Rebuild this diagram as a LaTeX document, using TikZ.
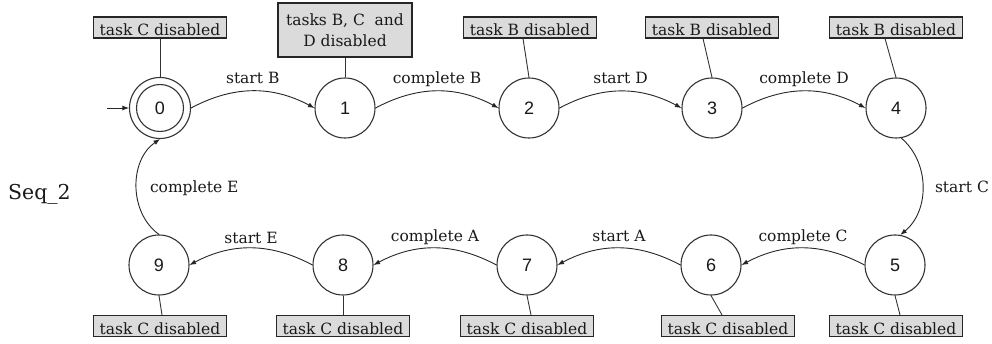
\documentclass[tikz,border=0pt]{standalone}
\usepackage{fontspec}
\setmainfont{DejaVu Serif}
\newfontfamily\statefont{Liberation Sans}
\usetikzlibrary{arrows.meta}
\begin{document}
\begin{tikzpicture}[x=1pt,y=-1pt,
  every node/.style={text=black!90},
  state/.style={circle,draw=black!80,line width=1.1pt,minimum size=60pt,inner sep=0pt,
    font=\statefont\fontsize{18}{18}\selectfont},
  startstate/.style={state,minimum size=61pt,
    path picture={\draw[black!80,line width=1.1pt] (path picture bounding box.center) circle[radius=23.5pt];}},
  boxbase/.style={draw=black!85,fill=gray!28,line width=1.1pt,inner xsep=6.5pt,inner ysep=2pt,
    font=\fontsize{15.5}{21}\selectfont},
  taskbox/.style={boxbase,text height=16pt,text depth=0pt,minimum height=21pt},
  tie/.style={draw=black!80,line width=0.9pt},
  move/.style={draw=black!85,line width=0.9pt,-{Latex[length=6.5pt,width=5pt]}},
  lbl/.style={font=\fontsize{15.5}{18}\selectfont,inner sep=0pt,text depth=0pt}
]
\useasboundingbox (0,0) rectangle (992,344);

% sequence name
\node[font=\fontsize{20.5}{24}\selectfont,anchor=base west,inner sep=0pt] (seq) at (8,200) {Seq\_2};

% states
\node[startstate] (n0) at (160,108) {0};
\node[state] (n1) at (345,108) {1};
\node[state] (n2) at (529,108) {2};
\node[state] (n3) at (712,108) {3};
\node[state] (n4) at (896,108) {4};
\node[state] (n5) at (895,265) {5};
\node[state] (n6) at (711,265) {6};
\node[state] (n7) at (527,265) {7};
\node[state] (n8) at (343,265) {8};
\node[state] (n9) at (159,265) {9};

% disabled-task notes
\node[taskbox] (b0) at (160,27.5) {task C disabled};
\node[boxbase,align=center,minimum height=54pt,minimum width=134pt] (b1) at (345,30) {tasks B, C\ \ and\\D disabled};
\node[taskbox] (b2) at (530,27.5) {task B disabled};
\node[taskbox] (b3) at (712,27.5) {task B disabled};
\node[taskbox] (b4) at (896,27.5) {task B disabled};
\node[taskbox] (b5) at (896,326) {task C disabled};
\node[taskbox] (b6) at (728,326) {task C disabled};
\node[taskbox] (b7) at (527,326) {task C disabled};
\node[taskbox] (b8) at (343,326) {task C disabled};
\node[taskbox] (b9) at (160,326) {task C disabled};

% note attachments
\draw[tie] (b0.south) -- (n0.north);
\draw[tie] (b1.south) -- (n1.north);
\draw[tie] ([xshift=-7pt]b2.south) -- (n2.north);
\draw[tie] ([xshift=-9pt]b3.south) -- (n3.north);
\draw[tie] ([xshift=-11pt]b4.south) -- (n4.north);
\draw[tie] (n5.south) -- ([xshift=4pt]b5.north);
\draw[tie] (n6.south) -- ([xshift=-6pt]b6.north);
\draw[tie] (n7.south) -- ([xshift=4pt]b7.north);
\draw[tie] (n8.south) -- (b8.north);
\draw[tie] (n9.south) -- ([xshift=2pt]b9.north);

% initial arrow
\coordinate (init) at (107,108);
\draw[move] (init) -- (n0);

% transitions
\draw[move] (n0.east) to[bend left=28] node[lbl,midway,above=7pt] {start B} (n1.west);
\draw[move] (n1.east) to[bend left=28] node[lbl,midway,above=7pt] {complete B} (n2.west);
\draw[move] (n2.east) to[bend left=28] node[lbl,midway,above=7pt] {start D} (n3.west);
\draw[move] (n3.east) to[bend left=28] node[lbl,midway,above=7pt] {complete D} (n4.west);
\draw[move] (n4.-80) to[bend left=50] node[lbl,midway,right=12pt] {start C} (n5.80);
\draw[move] (n5.west) to[bend right=28] node[lbl,midway,above=6pt] {complete C} (n6.east);
\draw[move] (n6.west) to[bend right=28] node[lbl,midway,above=6pt] {start A} (n7.east);
\draw[move] (n7.west) to[bend right=28] node[lbl,midway,above=6pt] {complete A} (n8.east);
\draw[move] (n8.west) to[bend right=28] node[lbl,midway,above=4pt] {start E} (n9.east);
\draw[move] (n9.north) to[bend left=55] node[lbl,midway,right=13pt] {complete E} (n0.south);
\end{tikzpicture}
\end{document}
